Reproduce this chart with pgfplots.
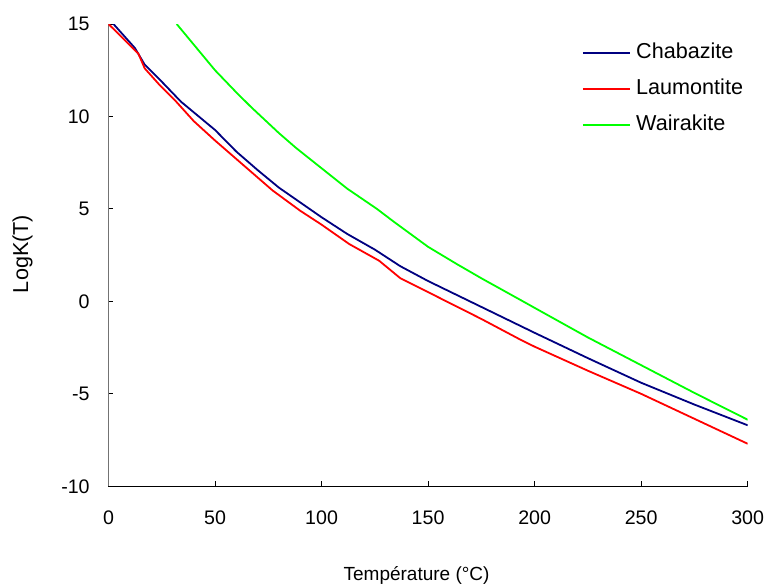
\documentclass[border=0pt]{standalone}
\usepackage{fontspec}
\setmainfont{Liberation Sans}
\usepackage{pgfplots}
\pgfplotsset{compat=1.18}
\definecolor{colChab}{RGB}{0,0,128}
\definecolor{colLaum}{RGB}{255,0,0}
\definecolor{colWair}{RGB}{0,255,0}

\begin{document}
\begin{tikzpicture}
% page = 768x585 px, 1 px = 0.5pt, axis box at origin
\useasboundingbox (-54.25pt,-49.35pt) rectangle (329.75pt,243.15pt);
\begin{axis}[
  scale only axis, width=319.6pt, height=231.15pt,
  xmin=0, xmax=300, ymin=-10, ymax=15,
  axis x line=bottom, axis y line=left,
  axis line style={-, line width=0.5pt},
  x axis line style={black},
  y axis line style={black!55},
  xtick={0,50,...,300}, ytick={-10,-5,...,15},
  tick align=inside, major tick length=2.5pt,
  tick style={black, line width=0.5pt},
  /pgf/number format/assume math mode=true,
  ticklabel style={font=\fontsize{9.8}{11}\selectfont, inner sep=0pt},
  xticklabel style={anchor=north, yshift=-11.85pt},
  yticklabel style={anchor=east, xshift=-9.25pt},
  xlabel={Température (°C)},
  ylabel={LogK(T)},
  xlabel style={at={(axis description cs:0.482,-0.2048)}, anchor=base,
    font=\fontsize{9.5}{11}\selectfont},
  ylabel style={at={(axis description cs:-0.1345,0.5025)}, anchor=center,
    font=\fontsize{10.8}{12}\selectfont},
  legend cell align=left,
  legend style={draw=none, fill=none, inner sep=0pt,
    font=\fontsize{10.8}{12}\selectfont,
    at={(axis description cs:0.7403,0.9604)}, anchor=north west,
    row sep=7.4pt, column sep=2.85pt,
    nodes={inner sep=0pt, text height=8pt, text depth=2.5pt}},
  legend image code/.code={\draw[#1] (0pt,0pt) -- (23.3pt,0pt);},
]
\addplot[color=colChab, line width=0.9pt] coordinates {
  (0,15.3)(12.4,13.7)(17,12.8)(24,12.0)(34,10.8)(50,9.27)
  (60,8.1)(70,7.1)(80,6.15)(90,5.35)(100,4.55)(112,3.65)(125,2.8)
  (137,1.9)(150,1.1)(175,-0.3)(200,-1.7)(225,-3.07)(250,-4.4)
  (275,-5.58)(300,-6.7)
};
\addlegendentry{Chabazite}
\addplot[color=colLaum, line width=0.9pt] coordinates {
  (0,15.0)(14,13.4)(17,12.6)(24,11.7)(31,10.9)(40,9.75)
  (50,8.7)(60,7.7)(70,6.7)(77,6.0)(90,4.9)(100,4.15)(113,3.1)
  (127,2.2)(137,1.25)(150,0.5)(175,-0.95)(193,-2.05)(200,-2.45)
  (225,-3.75)(250,-5.0)(275,-6.35)(300,-7.7)
};
\addlegendentry{Laumontite}
\addplot[color=colWair, line width=0.9pt] coordinates {
  (32,15.0)(50,12.5)(60,11.3)(67,10.5)(80,9.1)(88,8.3)
  (100,7.2)(112,6.1)(126,5.0)(134,4.3)(150,2.95)(163,2.05)(175,1.25)
  (193,0.1)(200,-0.35)(225,-1.95)(250,-3.45)(275,-4.95)(300,-6.4)
};
\addlegendentry{Wairakite}
\end{axis}
\end{tikzpicture}
\end{document}
